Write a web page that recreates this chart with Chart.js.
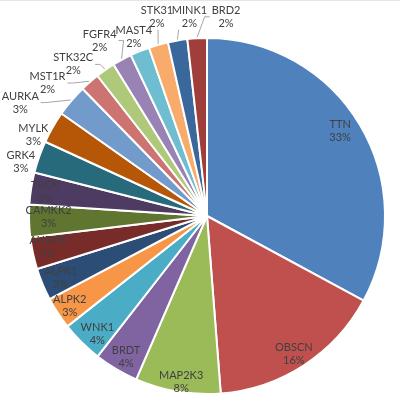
<!DOCTYPE html>
<html>
<head>
<meta charset="utf-8">
<script src="https://cdn.jsdelivr.net/npm/chart.js@4/dist/chart.umd.min.js"></script>
<style>
  body { margin: 0; background: #fff; }
  #wrap { width: 400px; height: 396px; border-top: 1px solid #e6e6e6; box-sizing: border-box; }
</style>
</head>
<body>
<div id="wrap"><canvas id="pie" width="400" height="395"></canvas></div>
<script>
const genes = ['TTN', 'OBSCN', 'MAP2K3', 'BRDT', 'WNK1', 'ALPK2', 'ALPK1', 'AURKB', 'CAMKK2', 'TBCK',
  'GRK4', 'MYLK', 'AURKA', 'MST1R', 'STK32C', 'FGFR4', 'MAST4', 'STK31', 'MINK1', 'BRD2'];
const shares = [32.7, 15.8, 7.7, 4.0, 3.8, 2.9, 2.9, 2.9, 2.9, 2.9,
  2.9, 2.9, 2.9, 1.75, 1.75, 1.75, 1.75, 1.75, 1.75, 1.75];
const colors = ['#4f81bd', '#c0504d', '#9bbb59', '#8064a2', '#4bacc6', '#f79646', '#2c4d75', '#772c2a', '#5f7530', '#4d3b62',
  '#276a7c', '#b65708', '#729aca', '#cd7371', '#afc97a', '#9983b5', '#6fbdd1', '#f9ab6b', '#3a679c', '#9f3e3a'];

// label placement: radius as fraction of pie radius, angle nudge in degrees
const labelRadius = [0.89, 0.91, 0.94, 0.91, 0.90, 0.92, 0.89, 0.91, 0.89, 0.92,
  1.09, 1.08, 1.23, 1.17, 1.14, 1.16, 1.09, 1.16, 1.13, 1.13];
const labelShift = [-2, 0.6, -0.6, -0.7, -1.6, 0, 0, 1.3, 1.6, 0,
  -3, -4.5, -8.9, -8.8, -6.4, -2.8, 0, 1.8, 4.5, 8.6];
const withLeader = [12, 13, 14, 15, 16, 17, 18, 19];

const total = shares.reduce((a, b) => a + b, 0);

const pieLabels = {
  id: 'pieLabels',
  afterDatasetsDraw(chart) {
    const ctx = chart.ctx;
    const arcs = chart.getDatasetMeta(0).data;
    ctx.save();
    ctx.font = '11px Lato';
    ctx.textAlign = 'center';
    ctx.textBaseline = 'middle';
    arcs.forEach((arc, i) => {
      const p = arc.getProps(['x', 'y', 'startAngle', 'endAngle', 'outerRadius'], true);
      const mid = (p.startAngle + p.endAngle) / 2;
      const a = mid + labelShift[i] * Math.PI / 180;
      const r = p.outerRadius * labelRadius[i];
      const lx = p.x + Math.cos(a) * r;
      const ly = p.y + Math.sin(a) * r;
      const pct = Math.round(shares[i] / total * 100) + '%';
      const w = Math.max(ctx.measureText(genes[i]).width, ctx.measureText(pct).width);

      if (withLeader.includes(i)) {
        const sx = p.x + Math.cos(mid) * (p.outerRadius + 1);
        const sy = p.y + Math.sin(mid) * (p.outerRadius + 1);
        ctx.beginPath();
        ctx.strokeStyle = '#a6a6a6';
        ctx.lineWidth = 1;
        if (Math.abs(sx - lx) > w / 2 + 4) {
          // side stub, then down to the slice
          const dir = Math.sign(sx - lx);
          const x0 = lx + dir * (w / 2 + 2);
          ctx.moveTo(x0, ly + 1);
          ctx.lineTo(x0 + dir * 5, ly + 1);
          ctx.lineTo(sx, sy);
        } else {
          ctx.moveTo(sx + (lx - sx) * 0.1, ly + 14);
          ctx.lineTo(sx, sy);
        }
        ctx.stroke();
      }

      ctx.fillStyle = '#404040';
      ctx.fillText(genes[i], lx, ly - 5.5);
      ctx.fillText(pct, lx, ly + 7.5);
    });
    ctx.restore();
  }
};

new Chart(document.getElementById('pie').getContext('2d'), {
  type: 'pie',
  data: {
    labels: genes,
    datasets: [{
      data: shares,
      backgroundColor: colors,
      borderColor: '#ffffff',
      borderWidth: 2
    }]
  },
  options: {
    responsive: false,
    animation: false,
    layout: { padding: { left: 28, right: 14, top: 36, bottom: 1 } },
    plugins: {
      legend: { display: false },
      tooltip: { enabled: false }
    }
  },
  plugins: [pieLabels]
});
</script>
</body>
</html>
